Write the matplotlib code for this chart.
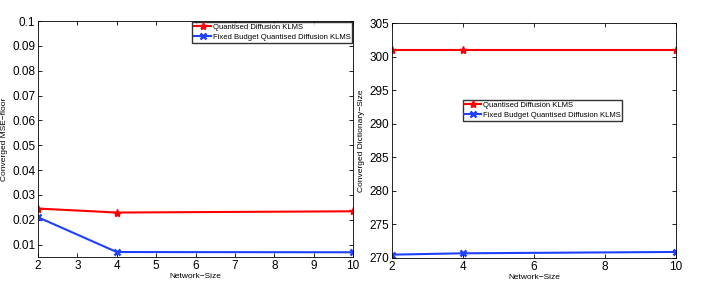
import matplotlib
matplotlib.use("Agg")
import matplotlib.pyplot as plt

# data
network_size = [2, 4, 10]
mse_quantised = [0.0245, 0.0229, 0.0234]
mse_fixed = [0.0210, 0.0070, 0.0069]
dict_quantised = [301, 301, 301]
dict_fixed = [270.5, 270.7, 270.9]

lbl_q = 'Quantised Diffusion KLMS'
lbl_f = 'Fixed Budget Quantised Diffusion KLMS'

plt.rcParams['font.family'] = ['Liberation Sans', 'DejaVu Sans']

fig = plt.figure(figsize=(7.06, 2.90), dpi=100)
ax1 = fig.add_axes([38/706, 1 - 257/290, 315/706, 236/290])
ax2 = fig.add_axes([392/706, 1 - 258/290, 284/706, 235/290])


def style(ax):
    ax.tick_params(direction='in', top=True, right=True, labelsize=8.5, length=3, width=0.6, pad=2)
    for s in ax.spines.values():
        s.set_linewidth(0.6)


ax1.plot(network_size, mse_quantised, color='red', marker='*', markersize=6, lw=1.5, label=lbl_q)
ax1.plot(network_size, mse_fixed, color='#2040ff', marker='x', markersize=5, mew=1.8, lw=1.5, label=lbl_f)
ax1.set_xlim(2, 10)
ax1.set_ylim(0.005, 0.1)
ax1.set_xticks(range(2, 11))
ax1.set_yticks([0.01, 0.02, 0.03, 0.04, 0.05, 0.06, 0.07, 0.08, 0.09, 0.1])
ax1.set_yticklabels(['0.01', '0.02', '0.03', '0.04', '0.05', '0.06', '0.07', '0.08', '0.09', '0.1'])
ax1.set_xlabel('Network\u2212Size', fontsize=6, labelpad=1)
ax1.set_ylabel('Converged MSE\u2212floor', fontsize=6)
ax1.yaxis.set_label_coords(-30/315, 0.5)
style(ax1)
ax1.legend(loc='upper right', fontsize=5.5, frameon=True, fancybox=False, edgecolor='black',
           borderpad=0.25, labelspacing=0.35, handlelength=2.2, handletextpad=0.2, borderaxespad=0.1)

ax2.plot(network_size, dict_quantised, color='red', marker='*', markersize=6, lw=1.5, label=lbl_q)
ax2.plot(network_size, dict_fixed, color='#2040ff', marker='x', markersize=5, mew=1.8, lw=1.5, label=lbl_f)
ax2.set_xlim(2, 10)
ax2.set_ylim(270, 305)
ax2.set_xticks([2, 4, 6, 8, 10])
ax2.set_yticks(range(270, 306, 5))
ax2.set_xlabel('Network\u2212Size', fontsize=6, labelpad=1)
ax2.set_ylabel('Converged Dictionary\u2212Size', fontsize=6)
ax2.yaxis.set_label_coords(-27/284, 0.5)
style(ax2)
ax2.legend(loc='upper left', bbox_to_anchor=(0.235, 0.69), fontsize=5.5, frameon=True, fancybox=False,
           edgecolor='black', borderpad=0.25, labelspacing=0.35, handlelength=2.2, handletextpad=0.2)

fig.savefig('out.png', dpi=100)
